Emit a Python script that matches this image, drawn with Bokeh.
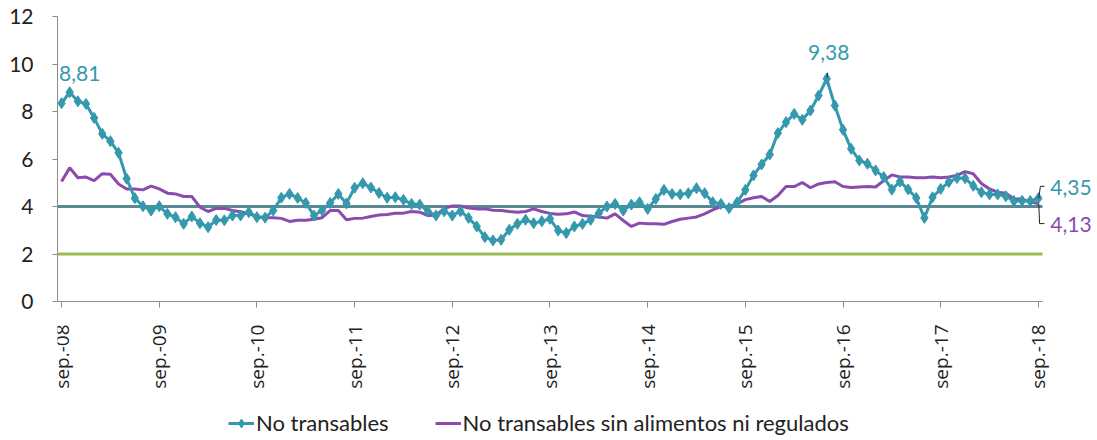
import math
from bokeh.plotting import figure
from bokeh.models import (Label, Legend, LegendItem, FixedTicker, Arrow,
                          ColumnDataSource)
from bokeh.embed import file_html
from bokeh.resources import INLINE

# ---------------- data ----------------
no_transables = [
    8.35, 8.81, 8.43, 8.32, 7.73, 7.06, 6.75, 6.26, 5.17, 4.35, 4.01, 3.83,
    4.01, 3.69, 3.55, 3.27, 3.58, 3.30, 3.13, 3.43, 3.42, 3.62, 3.62, 3.76,
    3.55, 3.53, 3.83, 4.37, 4.53, 4.36, 4.15, 3.62, 3.83, 4.15, 4.53, 4.13,
    4.79, 4.98, 4.80, 4.57, 4.37, 4.39, 4.28, 4.11, 4.08, 3.80, 3.62, 3.80,
    3.62, 3.80, 3.52, 3.16, 2.71, 2.57, 2.60, 3.02, 3.27, 3.44, 3.30, 3.38,
    3.48, 2.99, 2.88, 3.16, 3.27, 3.44, 3.72, 4.00, 4.11, 3.83, 4.08, 4.18,
    3.90, 4.32, 4.70, 4.53, 4.51, 4.56, 4.77, 4.56, 4.18, 4.11, 3.93, 4.18,
    4.70, 5.31, 5.77, 6.19, 7.09, 7.55, 7.90, 7.65, 8.04, 8.67, 9.38, 8.25,
    7.23, 6.43, 5.94, 5.80, 5.52, 5.24, 4.71, 5.05, 4.72, 4.36, 3.52, 4.39,
    4.74, 5.03, 5.20, 5.19, 4.87, 4.60, 4.51, 4.51, 4.43, 4.23, 4.24, 4.23,
    4.35,
]
sin_alimentos_regulados = [
    5.05, 5.63, 5.21, 5.24, 5.09, 5.38, 5.36, 4.95, 4.74, 4.74, 4.70, 4.86,
    4.74, 4.56, 4.53, 4.42, 4.42, 3.97, 3.79, 3.92, 3.92, 3.83, 3.78, 3.69,
    3.58, 3.53, 3.53, 3.50, 3.37, 3.42, 3.42, 3.46, 3.53, 3.83, 3.83, 3.44,
    3.50, 3.51, 3.58, 3.64, 3.66, 3.72, 3.72, 3.79, 3.76, 3.62, 3.63, 3.92,
    4.02, 4.02, 3.94, 3.90, 3.90, 3.84, 3.83, 3.79, 3.76, 3.79, 3.90, 3.79,
    3.71, 3.67, 3.69, 3.77, 3.62, 3.59, 3.56, 3.51, 3.69, 3.41, 3.16, 3.30,
    3.27, 3.27, 3.25, 3.37, 3.46, 3.51, 3.56, 3.69, 3.86, 4.00, 4.00, 4.11,
    4.29, 4.37, 4.42, 4.21, 4.46, 4.84, 4.84, 5.01, 4.79, 4.95, 5.01, 5.04,
    4.84, 4.80, 4.82, 4.84, 4.82, 5.09, 5.33, 5.24, 5.24, 5.21, 5.21, 5.24,
    5.21, 5.24, 5.31, 5.47, 5.38, 4.97, 4.74, 4.60, 4.56, 4.33, 4.31, 4.19,
    4.13,
]
tick_labels = ["sep.-08", "sep.-09", "sep.-10", "sep.-11", "sep.-12", "sep.-13",
               "sep.-14", "sep.-15", "sep.-16", "sep.-17", "sep.-18"]
meta_superior = 4
meta_inferior = 2
series_names = ["No transables", "No transables sin alimentos ni regulados"]

# ---------------- styling ----------------
TEAL = "#3499AD"
PURPLE = "#8B4BAE"
LINE4 = "#5A8993"
GREEN = "#9BBB59"
AXIS = "#8C8C8C"
FONT = "Lato"

n = len(no_transables)
x = list(range(n))
src = ColumnDataSource(dict(x=x, a=no_transables, b=sin_alimentos_regulados))

# frame covers the whole area right/below the y axis, so that labels and the
# legend (drawn inside the frame) are not clipped
PX_PER_MONTH = 8.14
PX_PER_UNIT = 23.75
W, H = 1097, 440
LEFT, TOP = 57, 16
frame_w = W - LEFT
frame_h = H - TOP
x_lo = x[0] - 0.5
y_hi = 12
p = figure(width=W, height=H,
           x_range=(x_lo, x_lo + frame_w / PX_PER_MONTH),
           y_range=(y_hi - frame_h / PX_PER_UNIT, y_hi),
           output_backend="svg", toolbar_location=None,
           min_border_left=LEFT, min_border_right=0, min_border_top=TOP,
           min_border_bottom=0)
p.outline_line_color = None
p.grid.visible = False
p.background_fill_color = "white"
p.border_fill_color = "white"

# reference lines (constant series over the months)
x_edges = [x[0] - 0.5, x[-1] + 0.5]
p.line(x_edges, [meta_superior] * 2, line_color=LINE4, line_width=3)
p.line(x_edges, [meta_inferior] * 2, line_color=GREEN, line_width=3)

# series
r_b = p.line("x", "b", source=src, line_color=PURPLE, line_width=3)
r_a = p.line("x", "a", source=src, line_color=TEAL, line_width=3)
r_am = p.scatter("x", "a", source=src, marker="diamond", size=11,
                 fill_color=TEAL, line_color=TEAL)

# axes
p.yaxis.ticker = FixedTicker(ticks=list(range(0, 13, 2)))
p.yaxis.bounds = (0, 12)
p.yaxis.axis_line_color = AXIS
p.yaxis.major_tick_line_color = AXIS
p.yaxis.major_tick_out = 5
p.yaxis.major_tick_in = 0
p.yaxis.minor_tick_line_color = None
p.yaxis.major_label_text_font = FONT
p.yaxis.major_label_text_font_size = "21px"
p.yaxis.major_label_text_color = "#222222"
p.yaxis.major_label_standoff = 19

ticks = list(range(0, n, 12))
p.xaxis.fixed_location = 0
p.xaxis.bounds = tuple(x_edges)
p.xaxis.ticker = FixedTicker(ticks=ticks)
p.xaxis.major_label_overrides = {t: lab for t, lab in zip(ticks, tick_labels)}
p.xaxis.major_label_orientation = math.pi / 2
p.xaxis.axis_line_color = AXIS
p.xaxis.major_tick_line_color = AXIS
p.xaxis.major_tick_out = 6
p.xaxis.major_tick_in = 0
p.xaxis.minor_tick_line_color = None
p.xaxis.major_label_text_font = "Open Sans"
p.xaxis.major_label_text_font_size = "19px"
p.xaxis.major_label_text_color = "#222222"
p.xaxis.major_label_standoff = 17

# data labels
i_first = 1
i_peak = no_transables.index(max(no_transables))
i_last = n - 1
fmt = lambda v: f"{v:.2f}".replace(".", ",")

def lab(i, v, color, align, dx, dy):
    p.add_layout(Label(x=i, y=v, text=fmt(v), text_color=color, text_font=FONT,
                       text_font_size="21px", text_align=align,
                       text_baseline="middle", x_offset=dx, y_offset=dy))

lab(i_first, no_transables[i_first], TEAL, "center", 10, 19)
lab(i_peak, no_transables[i_peak], TEAL, "center", 2, 26)
lab(i_last, no_transables[i_last], TEAL, "left", 12, 11)
lab(i_last, sin_alimentos_regulados[i_last], PURPLE, "left", 12, -21)

# leader brackets
ya = no_transables[i_last]
yb = sin_alimentos_regulados[i_last]
for (x0, y0, x1, y1) in [
    (i_last + 0.05, ya, i_last + 0.25, ya + 0.5),
    (i_last + 0.25, ya + 0.5, i_last + 0.75, ya + 0.5),
    (i_last + 0.05, yb, i_last + 0.15, yb - 0.85),
    (i_last + 0.15, yb - 0.85, i_last + 0.75, yb - 0.85),
    (i_peak + 0.05, no_transables[i_peak] + 0.05, i_peak + 0.1, no_transables[i_peak] + 0.25),
]:
    p.add_layout(Arrow(end=None, x_start=x0, y_start=y0, x_end=x1, y_end=y1,
                       line_color="#222222", line_width=1))

legend = Legend(items=[LegendItem(label=series_names[0], renderers=[r_a, r_am]),
                       LegendItem(label=series_names[1], renderers=[r_b])],
                orientation="horizontal", location=(171, 4),
                border_line_alpha=0, background_fill_alpha=0,
                label_text_font=FONT, label_text_font_size="22px",
                label_text_color="#222222",
                glyph_width=26, glyph_height=22, spacing=46,
                padding=0, margin=0, label_standoff=2)
p.add_layout(legend)

open("out.html", "w").write(file_html(p, INLINE))
